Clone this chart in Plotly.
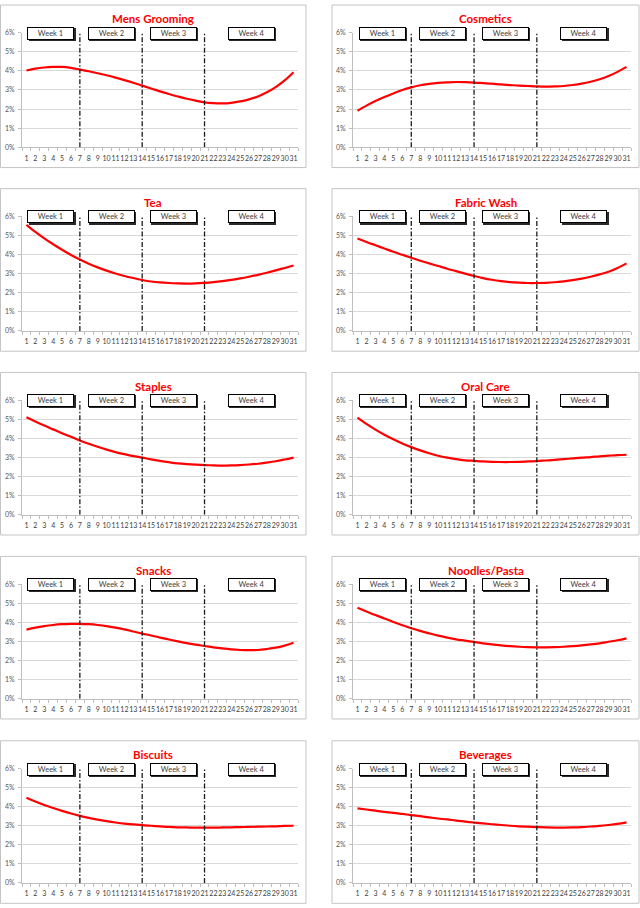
import plotly.graph_objects as go

days = list(range(1, 32))
week_breaks = [7, 14, 21]
week_labels = ["Week 1", "Week 2", "Week 3", "Week 4"]
y_ticks = [0, 1, 2, 3, 4, 5, 6]
y_tick_labels = ["0%", "1%", "2%", "3%", "4%", "5%", "6%"]

categories = ["Mens Grooming", "Cosmetics", "Tea", "Fabric Wash", "Staples",
              "Oral Care", "Snacks", "Noodles/Pasta", "Biscuits", "Beverages"]

# daily share, in percent
mens_grooming = [4.02, 4.12, 4.18, 4.21, 4.21, 4.16, 4.07, 3.98, 3.88, 3.77, 3.65, 3.52, 3.38, 3.23, 3.08,
                 2.93, 2.79, 2.66, 2.54, 2.44, 2.35, 2.31, 2.30, 2.33, 2.40, 2.51, 2.66, 2.88, 3.15, 3.50, 3.93]
cosmetics = [1.91, 2.18, 2.42, 2.63, 2.82, 3.00, 3.14, 3.25, 3.32, 3.37, 3.40, 3.42, 3.41, 3.39, 3.36,
             3.33, 3.29, 3.26, 3.23, 3.21, 3.19, 3.18, 3.19, 3.21, 3.26, 3.33, 3.43, 3.56, 3.73, 3.95, 4.21]
tea = [5.56, 5.19, 4.85, 4.54, 4.25, 3.98, 3.74, 3.52, 3.33, 3.16, 3.01, 2.88, 2.77, 2.67, 2.59,
       2.54, 2.51, 2.49, 2.48, 2.49, 2.52, 2.56, 2.61, 2.67, 2.75, 2.84, 2.94, 3.05, 3.17, 3.30, 3.43]
fabric_wash = [4.84, 4.66, 4.49, 4.32, 4.15, 3.99, 3.83, 3.68, 3.54, 3.40, 3.26, 3.13, 3.00, 2.88, 2.77,
               2.68, 2.61, 2.56, 2.53, 2.51, 2.51, 2.52, 2.55, 2.60, 2.66, 2.74, 2.84, 2.96, 3.10, 3.30, 3.54]
staples = [5.10, 4.88, 4.67, 4.47, 4.27, 4.08, 3.89, 3.72, 3.56, 3.41, 3.28, 3.17, 3.07, 2.99, 2.90,
           2.82, 2.75, 2.69, 2.65, 2.62, 2.60, 2.58, 2.57, 2.58, 2.60, 2.63, 2.67, 2.73, 2.80, 2.89, 2.99]
oral_care = [5.09, 4.76, 4.46, 4.19, 3.95, 3.73, 3.54, 3.37, 3.22, 3.09, 2.99, 2.91, 2.85, 2.82, 2.79,
             2.77, 2.76, 2.76, 2.77, 2.79, 2.81, 2.84, 2.87, 2.91, 2.95, 2.99, 3.02, 3.06, 3.09, 3.12, 3.14]
snacks = [3.62, 3.72, 3.80, 3.86, 3.90, 3.92, 3.92, 3.90, 3.86, 3.80, 3.72, 3.63, 3.52, 3.41, 3.31,
          3.20, 3.10, 3.00, 2.91, 2.83, 2.76, 2.69, 2.63, 2.58, 2.55, 2.54, 2.55, 2.60, 2.67, 2.78, 2.93]
noodles_pasta = [4.76, 4.57, 4.38, 4.20, 4.02, 3.85, 3.69, 3.55, 3.42, 3.30, 3.20, 3.11, 3.04, 2.97, 2.90,
                 2.84, 2.79, 2.75, 2.72, 2.70, 2.69, 2.69, 2.70, 2.72, 2.75, 2.79, 2.84, 2.90, 2.98, 3.06, 3.16]
biscuits = [4.47, 4.27, 4.09, 3.93, 3.78, 3.64, 3.52, 3.41, 3.32, 3.24, 3.17, 3.11, 3.07, 3.03, 3.00,
            2.97, 2.94, 2.92, 2.91, 2.90, 2.90, 2.90, 2.91, 2.92, 2.93, 2.94, 2.95, 2.96, 2.97, 2.99, 3.00]
beverages = [3.91, 3.85, 3.79, 3.73, 3.68, 3.62, 3.56, 3.50, 3.44, 3.38, 3.33, 3.27, 3.22, 3.17, 3.12,
             3.08, 3.04, 3.00, 2.97, 2.95, 2.93, 2.91, 2.90, 2.90, 2.91, 2.93, 2.96, 2.99, 3.04, 3.10, 3.18]

series = [mens_grooming, cosmetics, tea, fabric_wash, staples,
          oral_care, snacks, noodles_pasta, biscuits, beverages]

W, H = 640, 908
col_x = [(22, 298), (353, 631)]          # plot area left/right, px
box_x = [(0.5, 306), (332, 639)]         # panel frame left/right, px
row_top = [28, 213.3, 398.7, 584.3, 770.3]  # y of the 6% line, px
plot_h = 115.5
font = "Lato, 'Open Sans', sans-serif"

day_cats = [str(d) for d in days]
edges = [days[0] - 0.5] + week_breaks + [days[-1] + 0.5]
week_mid = [(edges[k] + edges[k + 1]) / 2 - days[0] for k in range(len(week_labels))]

fig = go.Figure()
shapes = []
annotations = []

for i, (name, vals) in enumerate(zip(categories, series)):
    r, c = divmod(i, 2)
    n = i + 1
    xa = "x" if n == 1 else f"x{n}"
    ya = "y" if n == 1 else f"y{n}"
    x0, x1 = col_x[c]
    top = row_top[r]

    fig.add_trace(go.Scatter(x=day_cats, y=vals, mode="lines", line=dict(color="#ff0000", width=2.2, shape="spline"),
                             xaxis=xa, yaxis=ya, hoverinfo="skip"))
    for d in week_breaks:
        fig.add_trace(go.Scatter(x=[str(d), str(d)], y=[y_ticks[0], y_ticks[-1]], mode="lines",
                                 line=dict(color="#1a1a1a", width=1.3, dash="5px,2px,1.5px,2px"),
                                 xaxis=xa, yaxis=ya, hoverinfo="skip"))

    fig.update_layout({
        f"xaxis{'' if n == 1 else n}": dict(
            domain=[x0 / W, x1 / W], anchor=ya, type="category", range=[-0.5, len(days) - 0.5],
            tickson="boundaries", ticks="outside", ticklen=3, tickcolor="#bfbfbf", tickangle=0,
            ticklabelstandoff=4,
            showline=True, linecolor="#bfbfbf", showgrid=False, zeroline=False,
            tickfont=dict(size=7, color="#404040", family=font), fixedrange=True),
        f"yaxis{'' if n == 1 else n}": dict(
            domain=[1 - (top + plot_h) / H, 1 - top / H], anchor=xa, range=[y_ticks[0], y_ticks[-1]],
            tickmode="array", tickvals=y_ticks, ticktext=y_tick_labels, ticks="outside", ticklen=3,
            tickcolor="#bfbfbf", ticklabelstandoff=2,
            showline=True, linecolor="#bfbfbf", showgrid=True, gridcolor="#d9d9d9", gridwidth=1,
            zeroline=False, tickfont=dict(size=7, color="#595959", family=font), fixedrange=True),
    })

    bx0, bx1 = box_x[c]
    shapes.append(dict(type="rect", xref="paper", yref="paper", x0=bx0 / W, x1=bx1 / W,
                       y0=1 - (top - 28 + 164) / H, y1=1 - (top - 28) / H,
                       line=dict(color="#c4c4c4", width=1), fillcolor="rgba(0,0,0,0)", layer="below"))

    annotations.append(dict(xref="paper", yref="paper", x=(bx0 + bx1) / 2 / W, y=1 - (top - 14) / H,
                            text=f"<b>{name}</b>", showarrow=False, xanchor="center", yanchor="middle",
                            font=dict(size=11.5, color="#ff0000", family=font)))

    for lab, xm in zip(week_labels, week_mid):
        annotations.append(dict(xref=xa, yref=ya, x=xm, y=y_ticks[-1], text="", showarrow=False,
                                width=45, height=11, xshift=1.2, yshift=-1.7, bgcolor="#2a2a2a",
                                bordercolor="#2a2a2a", borderwidth=1, borderpad=0))
        annotations.append(dict(xref=xa, yref=ya, x=xm, y=y_ticks[-1], text=lab, showarrow=False,
                                width=45, height=11, yshift=-0.5, bgcolor="#ffffff",
                                bordercolor="#000000", borderwidth=1, borderpad=0,
                                font=dict(size=7.5, color="#404040", family=font)))

fig.update_layout(width=W, height=H, margin=dict(l=0, r=0, t=0, b=0), showlegend=False,
                  plot_bgcolor="#ffffff", paper_bgcolor="#ffffff", shapes=shapes, annotations=annotations)

fig.write_html("out.html", config={"displayModeBar": False},
               post_script="document.body.style.margin='0';document.body.style.overflow='hidden';")
